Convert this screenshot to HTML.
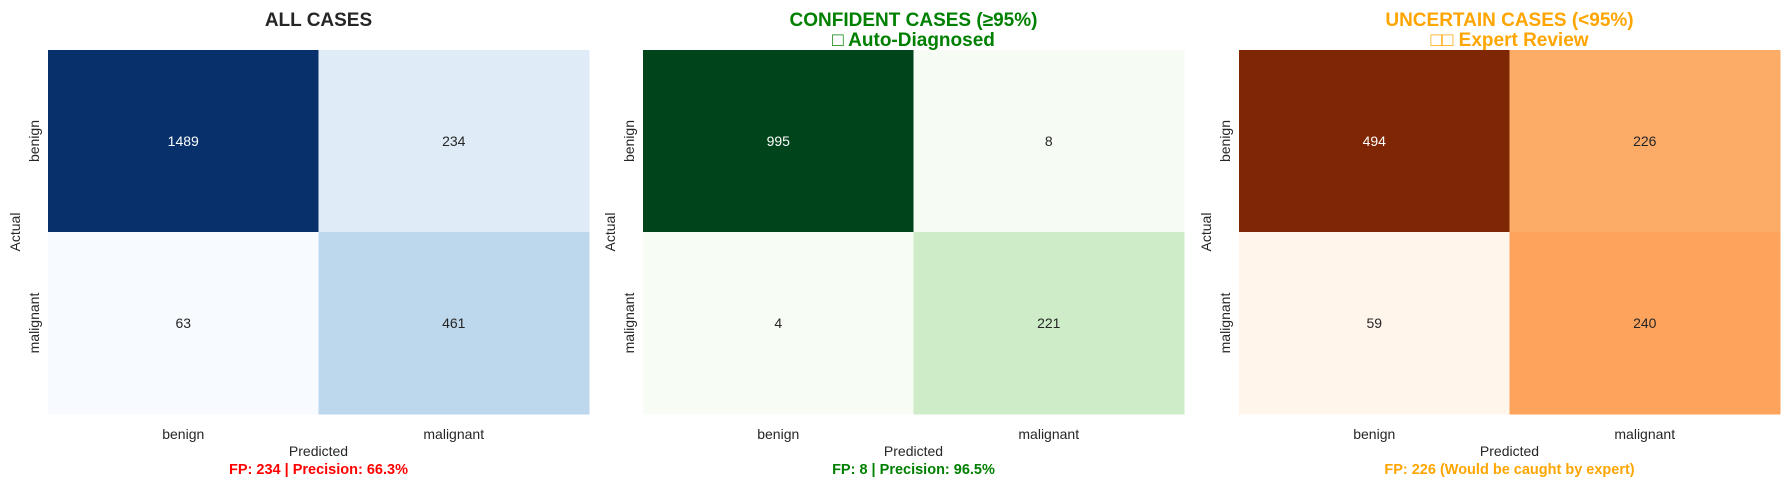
<!DOCTYPE html>
<html><head><meta charset="utf-8"><style>
html,body{margin:0;padding:0;background:#fff;}
svg{display:block;font-family:"Liberation Sans","DejaVu Sans",sans-serif;}
</style></head><body>
<svg id="chart" width="1790" height="487" xmlns="http://www.w3.org/2000/svg"></svg>
<script>
const classLabels = ["benign", "malignant"];
const allCases = [[1489, 234], [63, 461]];
const confidentCases = [[995, 8], [4, 221]];
const uncertainCases = [[494, 226], [59, 240]];
const panelTitles = [["ALL CASES"], ["CONFIDENT CASES (≥95%)", "□ Auto-Diagnosed"], ["UNCERTAIN CASES (<95%)", "□□ Expert Review"]];
const panelFooters = ["FP: 234 | Precision: 66.3%", "FP: 8 | Precision: 96.5%", "FP: 226 (Would be caught by expert)"];

const cmaps = {
  blues: ["#f7fbff","#deebf7","#c6dbef","#9ecae1","#6baed6","#4292c6","#2171b5","#08519c","#08306b"],
  greens: ["#f7fcf5","#e5f5e0","#c7e9c0","#a1d99b","#74c476","#41ab5d","#238b45","#006d2c","#00441b"],
  oranges: ["#fff5eb","#fee6ce","#fdd0a2","#fdae6b","#fd8d3c","#f16913","#d94801","#a63603","#7f2704"]
};
function hex(c){return [1,3,5].map(i=>parseInt(c.substr(i,2),16));}
function cmap(stops,t){
  t=Math.max(0,Math.min(1,t));const p=t*(stops.length-1);const i=Math.min(Math.floor(p),stops.length-2);const f=p-i;
  const a=hex(stops[i]),b=hex(stops[i+1]);const r=a.map((v,k)=>Math.round(v+(b[k]-v)*f));
  return {col:`rgb(${r[0]},${r[1]},${r[2]})`,lum:(0.299*r[0]+0.587*r[1]+0.114*r[2])};
}
const NS="http://www.w3.org/2000/svg";
const svg=document.getElementById('chart');
function mk(tag,attrs,parent,text){const e=document.createElementNS(NS,tag);for(const k in attrs)e.setAttribute(k,attrs[k]);if(text!==undefined)e.textContent=text;(parent||svg).appendChild(e);return e;}

const panels=[
  {data:allCases,map:cmaps.blues,x:48,color:"#262626",footColor:"#ff0000",name:"all-cases"},
  {data:confidentCases,map:cmaps.greens,x:643,color:"#008000",footColor:"#008000",name:"confident-cases"},
  {data:uncertainCases,map:cmaps.oranges,x:1239,color:"#ffa500",footColor:"#ffa500",name:"uncertain-cases"}
];
const W=541, H=364, Y0=50;
panels.forEach((p,pi)=>{
  const g=mk('g',{});
  
  
  const flat=p.data.flat();const mn=Math.min(...flat),mx=Math.max(...flat);
  const cw=W/classLabels.length,ch=H/classLabels.length;
  const xs=j=>p.x+j*cw, ys=i=>Y0+i*ch;
  p.data.forEach((row,i)=>row.forEach((v,j)=>{
    const c=cmap(p.map,(v-mn)/(mx-mn||1));
    const r=mk('rect',{x:xs(j),y:ys(i),width:cw+0.5,height:ch+0.5,fill:c.col},g);
    
    
    const t=mk('text',{x:xs(j)+cw/2,y:ys(i)+ch/2+5,'text-anchor':'middle','font-size':14,fill:c.lum<128?'#ffffff':'#262626'},g,String(v));
    
    
  }));
  const cx=p.x+W/2;
  const lines=panelTitles[pi];
  lines.forEach((s,k)=>{
    const t=mk('text',{x:cx,y:lines.length===1?26:(26+k*20),'text-anchor':'middle','font-size':19,'font-weight':'bold',fill:p.color},g,s);
    
    
  });
  classLabels.forEach((l,j)=>{
    const t=mk('text',{x:xs(j)+cw/2,y:439,'text-anchor':'middle','font-size':14,fill:'#262626'},g,l);
    
    
    const yy=ys(j)+ch/2;
    const t2=mk('text',{x:p.x-9,y:yy,'text-anchor':'middle','font-size':14,fill:'#262626',transform:`rotate(-90 ${p.x-9} ${yy})`},g,l);
    
    
  });
  const xl=mk('text',{x:cx,y:456,'text-anchor':'middle','font-size':14,fill:'#262626'},g,'Predicted');
  
  
  const ylx=p.x-28, yly=Y0+H/2;
  const yl=mk('text',{x:ylx,y:yly,'text-anchor':'middle','font-size':14,fill:'#262626',transform:`rotate(-90 ${ylx} ${yly})`},g,'Actual');
  
  
  const ft=mk('text',{x:cx,y:474,'text-anchor':'middle','font-size':14.5,'font-weight':'bold',fill:p.footColor},g,panelFooters[pi]);
  
  
});
</script>
</body></html>
